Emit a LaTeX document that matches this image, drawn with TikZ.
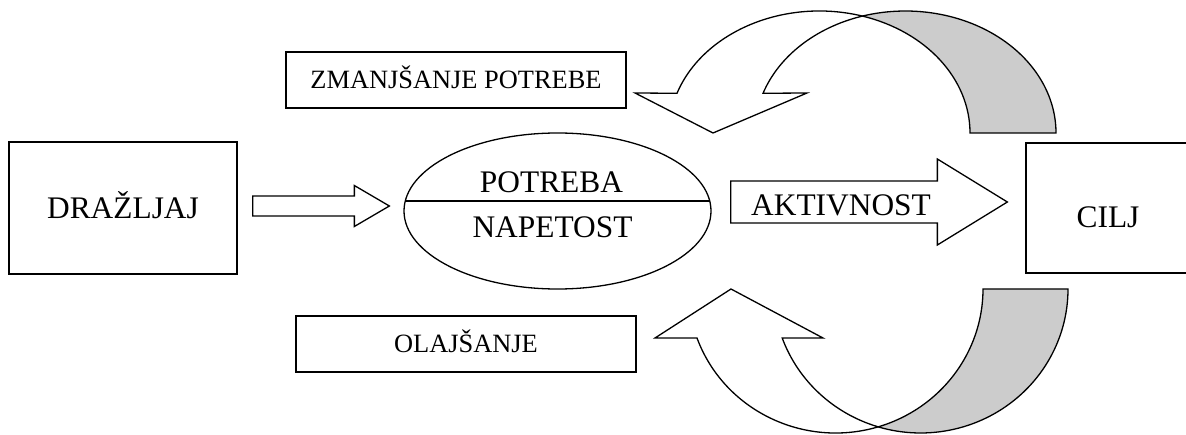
\documentclass[tikz,border=0pt]{standalone}
\usepackage{fontspec}
\setmainfont{Liberation Serif}
\usetikzlibrary{positioning, calc, shapes.geometric}
\definecolor{backside}{HTML}{CCCCCC}

\begin{document}
\begin{tikzpicture}[
    x=1pt, y=1pt,
    line width=1.3pt,
    box/.style={
        draw,
        rectangle,
        inner sep=0pt,
        text height=20.6pt,
        text depth=0pt,
        font=\fontsize{31.4}{36}\selectfont
    },
    smallbox/.style={
        box,
        minimum width=340,
        minimum height=56,
        text height=17.3pt,
        font=\fontsize{26.4}{30}\selectfont
    },
    txt/.style={
        inner sep=0pt,
        text height=20.6pt,
        text depth=0pt,
        font=\fontsize{31.4}{36}\selectfont
    },
    blockarrow/.style={draw, fill=white},
    band/.style={draw, fill=white},
    backband/.style={draw, fill=backside}
]
\useasboundingbox (0,0) rectangle (1186,434);

% Main chain
\node[box, minimum width=228, minimum height=132] (drazljaj) at (123,226) {DRAŽLJAJ};
\node[draw, ellipse, minimum width=307, minimum height=156, inner sep=0pt] (potreba) at (557.5,223) {};
\node[txt] (potrebatxt) at (551.5,251.5) {POTREBA};
\node[txt] (napetost) at (552.5,206.5) {NAPETOST};
\draw ($(potreba.center)+(-152.7,10)$) -- ($(potreba.center)+(152.7,10)$);
\node[box, minimum width=164, minimum height=130] (cilj) at (1108,226) {};
\node[txt] (ciljtxt) at (1108,216.5) {CILJ};

% Feedback labels
\node[smallbox] (zmanjsanje) at (456,354) {ZMANJŠANJE POTREBE};
\node[smallbox] (olajsanje) at (466,90) {OLAJŠANJE};

% Straight block arrows
\coordinate (in1) at ($(drazljaj.east)+(15,2)$);
\coordinate (tip1) at ($(potreba.west)+(-14,5)$);
\draw[blockarrow] ($(in1)+(0,10)$) -- ($(tip1)+(-35,10)$) -- ($(tip1)+(-35,20.5)$) -- (tip1)
    -- ($(tip1)+(-35,-20.5)$) -- ($(tip1)+(-35,-10)$) -- ($(in1)+(0,-10)$) -- cycle;

\coordinate (in2) at ($(potreba.east)+(19,9)$);
\coordinate (tip2) at ($(cilj.west)+(-18,6)$);
\draw[blockarrow] ($(in2)+(0,21)$) -- ($(tip2)+(-70,21)$) -- ($(tip2)+(-70,43)$) -- (tip2)
    -- ($(tip2)+(-70,-43)$) -- ($(tip2)+(-70,-21)$) -- ($(in2)+(0,-21)$) -- cycle;
\node[txt] (aktivnost) at (841,229) {AKTIVNOST};

% Curved arrow on top (back side first)
\coordinate (c1) at (819.4,301);
\coordinate (c2) at (905.4,301);
\coordinate (tip3) at (713,301);
\draw[backband] ($(c2)+(106.6:150.6 and 122)$)
    arc[start angle=106.6, end angle=0, x radius=150.6, y radius=122]
    -- ($(c1)+(0:150.6 and 122)$)
    arc[start angle=0, end angle=73.4, x radius=150.6, y radius=122] -- cycle;
\draw[band] ($(c1)+(161:150.6 and 122)$)
    arc[start angle=161, end angle=73.4, x radius=150.6, y radius=122]
    arc[start angle=106.6, end angle=161, x radius=150.6, y radius=122]
    -- (807,341) -- (tip3) -- (635,341) -- cycle;

% Curved arrow below
\coordinate (c3) at (835.6,145);
\coordinate (c4) at (920.6,145);
\coordinate (tip4) at (731,145);
\draw[backband] ($(c4)+(-106.8:147.4 and 144)$)
    arc[start angle=-106.8, end angle=0, x radius=147.4, y radius=144]
    -- ($(c3)+(0:147.4 and 144)$)
    arc[start angle=0, end angle=-73.2, x radius=147.4, y radius=144] -- cycle;
\draw[band] ($(c3)+(-160.1:147.4 and 144)$)
    arc[start angle=-160.1, end angle=-73.2, x radius=147.4, y radius=144]
    arc[start angle=-106.8, end angle=-160.1, x radius=147.4, y radius=144]
    -- (823,96) -- (tip4) -- (655,96) -- cycle;

\end{tikzpicture}
\end{document}
